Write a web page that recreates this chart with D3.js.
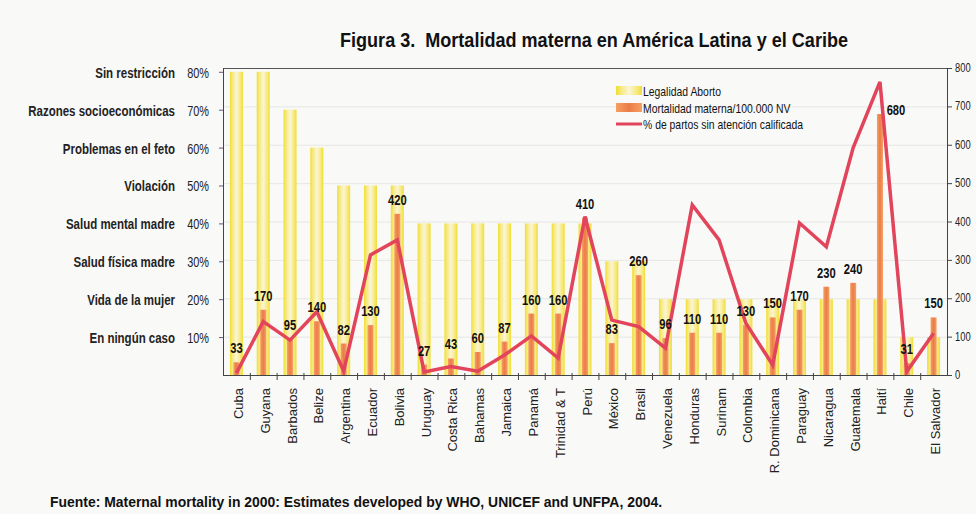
<!DOCTYPE html>
<html><head><meta charset="utf-8">
<script src="https://cdn.jsdelivr.net/npm/d3@7"></script>
<style>
body{margin:0;background:#f9f9f7}
text{font-family:"Liberation Sans",Arial,sans-serif}
</style></head>
<body><svg id="c" width="976" height="514"></svg>
<script>
const countries = ["Cuba","Guyana","Barbados","Belize","Argentina","Ecuador","Bolivia","Uruguay","Costa Rica","Bahamas","Jamaica","Panamá","Trinidad & T","Perú","México","Brasil","Venezuela","Honduras","Surinam","Colombia","R. Dominicana","Paraguay","Nicaragua","Guatemala","Haití","Chile","El Salvador"];
const legalidad = [80,80,70,60,50,50,50,40,40,40,40,40,40,40,30,30,20,20,20,20,20,20,20,20,20,10,10];
const mortalidad = [33,170,95,140,82,130,420,27,43,60,87,160,160,410,83,260,96,110,110,130,150,170,230,240,680,31,150];
const partosSinAtencion = [5,139,91,165,10,313,352,8,22,10,52,102,44,413,143,126,70,443,352,135,26,396,334,592,764,9,109];
const leftTicks = [10,20,30,40,50,60,70,80];
const leftReasons = ["En ningún caso","Vida de la mujer","Salud física madre","Salud mental madre","Violación","Problemas en el feto","Razones socioeconómicas","Sin restricción"];
const rightTicks = [0,100,200,300,400,500,600,700,800];
const legendLabels = ["Legalidad Aborto","Mortalidad materna/100.000 NV","% de partos sin atención calificada"];
const titleText = "Figura 3.  Mortalidad materna en América Latina y el Caribe";
const sourceText = "Fuente: Maternal mortality in 2000: Estimates developed by WHO, UNICEF and UNFPA, 2004.";

const svg = d3.select("#c");
const L = 223, R = 947, T = 68, B = 375;
const x = d3.scaleBand().domain(countries).range([L, R]).padding(0);
const yL = d3.scaleLinear().domain([0, 81]).range([B, T]);
const yR = d3.scaleLinear().domain([0, 800]).range([B, T]);

// place narrowed text: translate + horizontal scale (emulates a condensed face)
function nText(parent, data, fx, fy, f){
  return parent.selectAll(null).data(data).join("text")
    .attr("transform",(d,i)=>`translate(${fx(d,i)},${fy(d,i)}) scale(${f},1)`);
}

svg.append("rect").attr("width",976).attr("height",514).attr("fill","#f9f9f7");

const defs = svg.append("defs");
const gy = defs.append("linearGradient").attr("id","gy");
[[0,"#f1dc30"],[0.18,"#f6e978"],[0.5,"#fbf5d6"],[0.82,"#f6e978"],[1,"#f1dc30"]].forEach(s=>gy.append("stop").attr("offset",s[0]).attr("stop-color",s[1]));
const go = defs.append("linearGradient").attr("id","go");
[[0,"#f4a064"],[0.5,"#ec7c48"],[1,"#f4a064"]].forEach(s=>go.append("stop").attr("offset",s[0]).attr("stop-color",s[1]));

// gridlines
svg.append("g").selectAll("line").data(rightTicks.slice(1,-1)).join("line")
  .attr("x1",L).attr("x2",R).attr("y1",d=>yR(d)+0.5).attr("y2",d=>yR(d)+0.5)
  .attr("stroke","#e6e6e4").attr("stroke-width",1);

// top border
svg.append("line").attr("x1",L).attr("x2",R).attr("y1",T+0.5).attr("y2",T+0.5).attr("stroke","#555").attr("stroke-width",1);

// yellow bars
const yw = 13;
svg.append("g").selectAll("rect").data(countries).join("rect")
  .attr("x",(d)=>x(d)+x.bandwidth()/2-yw/2).attr("width",yw)
  .attr("y",(d,i)=>yL(legalidad[i])).attr("height",(d,i)=>B-yL(legalidad[i]))
  .attr("fill","url(#gy)");

// orange bars
const ow = 6;
svg.append("g").selectAll("rect").data(countries).join("rect")
  .attr("x",(d)=>x(d)+x.bandwidth()/2-ow/2).attr("width",ow)
  .attr("y",(d,i)=>yR(mortalidad[i])).attr("height",(d,i)=>B-yR(mortalidad[i]))
  .attr("fill","url(#go)");

// line
const line = d3.line().x((d,i)=>x(countries[i])+x.bandwidth()/2).y(d=>yR(d));
svg.append("path").datum(partosSinAtencion).attr("d",line)
  .attr("fill","none").attr("stroke","#e2445c").attr("stroke-width",3.5).attr("stroke-linejoin","miter");

// value labels
nText(svg.append("g"), countries,
  (d,i)=>x(d)+x.bandwidth()/2 + (d==="Haití"?16:0),
  (d,i)=>yR(mortalidad[i]) - (d==="Haití"?-1:9), 0.8)
  .attr("text-anchor","middle").attr("font-size",14).attr("font-weight","bold").attr("fill","#111")
  .text((d,i)=>mortalidad[i]);

// left axis
svg.append("line").attr("x1",L+0.5).attr("x2",L+0.5).attr("y1",T).attr("y2",B).attr("stroke","#444");
const lg = svg.append("g");
lg.selectAll("line").data(leftTicks).join("line")
  .attr("x1",L-4).attr("x2",L).attr("y1",d=>yL(d)+0.5).attr("y2",d=>yL(d)+0.5).attr("stroke","#665577");
nText(lg.append("g"), leftTicks, ()=>209, d=>yL(d)+6, 0.78)
  .attr("text-anchor","end").attr("font-size",14).attr("fill","#222")
  .text(d=>d+"%");
nText(lg.append("g"), leftTicks, ()=>175, d=>yL(d)+6, 0.82)
  .attr("text-anchor","end").attr("font-size",14).attr("font-weight","bold").attr("fill","#222")
  .text((d,i)=>leftReasons[i]);

// right axis
const ra = svg.append("g").attr("transform",`translate(${R},0)`).call(d3.axisRight(yR).tickValues(rightTicks).tickSize(5).tickFormat(""));
ra.select(".domain").attr("stroke","#444");
ra.selectAll("line").attr("stroke","#444");
nText(svg.append("g"), rightTicks, ()=>R+8, d=>yR(d)+4, 0.78)
  .attr("font-size",12).attr("fill","#222").text(d=>d);

// bottom axis
svg.append("line").attr("x1",L).attr("x2",R+5).attr("y1",B+0.5).attr("y2",B+0.5).attr("stroke","#444");
svg.append("g").selectAll("line").data(countries.slice(1)).join("line")
  .attr("x1",d=>x(d)+0.5).attr("x2",d=>x(d)+0.5).attr("y1",B-2).attr("y2",B+5).attr("stroke","#444");
svg.append("g").selectAll("text").data(countries).join("text")
  .attr("transform",d=>`translate(${x(d)+x.bandwidth()/2+6.5},388) rotate(-90)`)
  .attr("text-anchor","end").attr("font-size",13).attr("fill","#222")
  .text(d=>d);

// legend
const lx = 616;
svg.append("rect").attr("x",lx).attr("y",86).attr("width",26).attr("height",9).attr("fill","url(#gy)");
svg.append("rect").attr("x",lx).attr("y",103).attr("width",26).attr("height",9).attr("fill","url(#go)");
svg.append("line").attr("x1",lx).attr("x2",lx+26).attr("y1",124).attr("y2",124).attr("stroke","#e2445c").attr("stroke-width",3);
nText(svg.append("g"), legendLabels, ()=>lx+27, (d,i)=>96+i*16.5, 0.8)
  .attr("font-size",13).attr("fill","#111").text(d=>d);

// title & source
svg.append("text").attr("x",340).attr("y",47).attr("font-size",20).attr("font-weight","bold").attr("fill","#111")
  .attr("textLength",508).attr("lengthAdjust","spacingAndGlyphs").style("white-space","pre").text(titleText);
svg.append("text").attr("x",50).attr("y",507).attr("font-size",14).attr("font-weight","bold").attr("fill","#111")
  .attr("textLength",612).attr("lengthAdjust","spacingAndGlyphs").text(sourceText);
</script>
</body></html>
